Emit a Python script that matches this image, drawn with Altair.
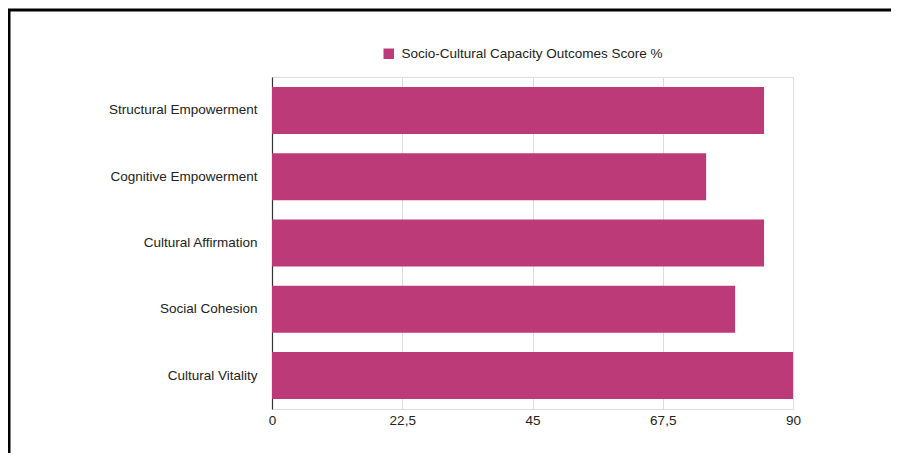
import altair as alt
import pandas as pd

categories = ["Structural Empowerment", "Cognitive Empowerment", "Cultural Affirmation", "Social Cohesion", "Cultural Vitality"]
scores = [85, 75, 85, 80, 90]
series_name = "Socio-Cultural Capacity Outcomes Score %"
x_ticks = [0, 22.5, 45, 67.5, 90]

df = pd.DataFrame({"category": categories, "score": scores, "series": [series_name] * len(categories)})

FONT = "Liberation Sans"

bars = alt.Chart(df).mark_bar(color="#bc3a78").encode(
    y=alt.Y("category:N", sort=categories, title=None,
            scale=alt.Scale(paddingInner=0.29, paddingOuter=0.15),
            axis=alt.Axis(ticks=False, grid=False, domain=True, domainColor="#333333", domainWidth=1.2,
                          labelPadding=15, labelFontSize=13.5, labelColor="#222222", labelFont=FONT)),
    x=alt.X("score:Q", title=None, scale=alt.Scale(domain=[0, 90], nice=False),
            axis=alt.Axis(values=x_ticks, ticks=False, domain=False, grid=True, gridColor="#dddddd",
                          labelExpr="replace(format(datum.value, '.1~f'), '.', ',')", labelPadding=4,
                          labelFlush=False,
                          labelFontSize=13.5, labelColor="#222222", labelFont=FONT)),
    color=alt.Color("series:N", scale=alt.Scale(range=["#bc3a78"]),
                    legend=alt.Legend(title=None, orient="none", legendX=110, legendY=-30,
                                      symbolType="square", symbolSize=110, symbolStrokeWidth=0,
                                      labelFontSize=13.5, labelColor="#222222", labelFont=FONT,
                                      labelLimit=500, padding=0, labelOffset=6)),
)

border_df = pd.DataFrame({"k": [0]})
left_border = alt.Chart(border_df).mark_rule(color="black", strokeWidth=3).encode(
    x=alt.value(-263), y=alt.value(-67), y2=alt.value(400))
top_border = alt.Chart(border_df).mark_rule(color="black", strokeWidth=3).encode(
    x=alt.value(-264), x2=alt.value(620), y=alt.value(-67))

chart = alt.layer(bars, left_border, top_border).properties(
    width=521, height=332,
    padding={"left": 264, "top": 69, "right": 98, "bottom": 44},
    autosize=alt.AutoSizeParams(type="none"),
).configure_view(stroke=None).configure(background="white")

chart.save("out.html", embed_options={"renderer": "svg", "actions": False})
